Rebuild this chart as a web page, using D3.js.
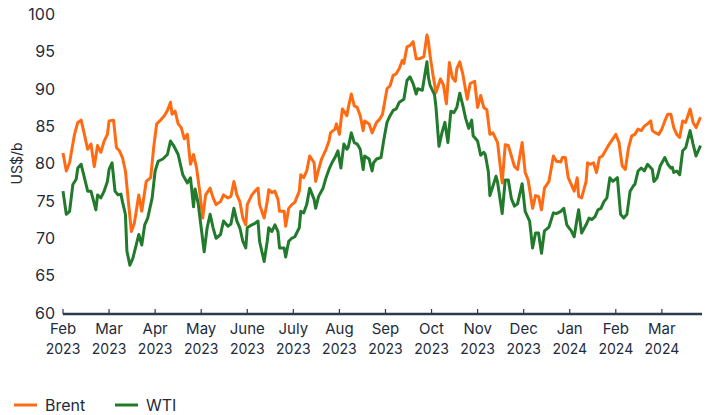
<!DOCTYPE html>
<html>
<head>
<meta charset="utf-8">
<script src="https://d3js.org/d3.v7.min.js"></script>
<style>
  body { margin: 0; background: #fff; }
  text { font-family: Inter, "Open Sans", sans-serif; fill: #1e2b3c; }
</style>
</head>
<body>
<div id="chart"></div>
<script>
// month ticks (equal-width months on the x axis)
var tickMonths = ["2023-02", "2023-03", "2023-04", "2023-05", "2023-06", "2023-07", "2023-08",
                  "2023-09", "2023-10", "2023-11", "2023-12", "2024-01", "2024-02", "2024-03"];
var tickNames = ["Feb", "Mar", "Apr", "May", "June", "July", "Aug", "Sep", "Oct", "Nov", "Dec", "Jan", "Feb", "Mar"];
var tickYears = ["2023", "2023", "2023", "2023", "2023", "2023", "2023", "2023", "2023", "2023", "2023", "2024", "2024", "2024"];
var yTicks = [60, 65, 70, 75, 80, 85, 90, 95, 100];

// US$/b
var brent = [
  ["2023-02-01", 81.4], ["2023-02-03", 79.0], ["2023-02-05", 80.1], ["2023-02-08", 83.9], ["2023-02-10", 85.5],
  ["2023-02-12", 85.8], ["2023-02-14", 83.9], ["2023-02-16", 81.9], ["2023-02-18", 82.6], ["2023-02-20", 79.6],
  ["2023-02-22", 82.4], ["2023-02-24", 81.5], ["2023-02-26", 83.0], ["2023-02-28", 83.9], ["2023-03-01", 85.7],
  ["2023-03-04", 85.8], ["2023-03-06", 82.1], ["2023-03-08", 81.7], ["2023-03-10", 80.8], ["2023-03-12", 79.0],
  ["2023-03-14", 74.9], ["2023-03-16", 70.9], ["2023-03-18", 72.0], ["2023-03-21", 75.8], ["2023-03-23", 73.6],
  ["2023-03-26", 77.6], ["2023-03-29", 78.1], ["2023-03-31", 82.1], ["2023-04-02", 85.3], ["2023-04-04", 85.7],
  ["2023-04-07", 86.4], ["2023-04-09", 87.1], ["2023-04-11", 88.2], ["2023-04-12", 86.6], ["2023-04-14", 87.0],
  ["2023-04-16", 85.3], ["2023-04-18", 84.8], ["2023-04-20", 83.3], ["2023-04-22", 83.9], ["2023-04-24", 79.9],
  ["2023-04-26", 81.2], ["2023-04-28", 79.4], ["2023-04-30", 76.3], ["2023-05-02", 72.7], ["2023-05-04", 75.8],
  ["2023-05-07", 76.7], ["2023-05-09", 75.4], ["2023-05-11", 74.5], ["2023-05-14", 74.9], ["2023-05-16", 75.8],
  ["2023-05-19", 75.4], ["2023-05-21", 75.6], ["2023-05-23", 77.6], ["2023-05-25", 75.8], ["2023-05-27", 74.9],
  ["2023-05-29", 72.7], ["2023-05-31", 71.8], ["2023-06-01", 74.5], ["2023-06-04", 75.8], ["2023-06-06", 76.3],
  ["2023-06-08", 76.7], ["2023-06-09", 74.5], ["2023-06-12", 72.7], ["2023-06-14", 74.9], ["2023-06-15", 76.5],
  ["2023-06-17", 76.1], ["2023-06-19", 76.3], ["2023-06-21", 75.2], ["2023-06-22", 73.6], ["2023-06-25", 73.6],
  ["2023-06-26", 71.6], ["2023-06-28", 74.0], ["2023-06-30", 74.5], ["2023-07-02", 74.8], ["2023-07-05", 76.3],
  ["2023-07-06", 78.5], ["2023-07-08", 78.1], ["2023-07-10", 79.0], ["2023-07-12", 81.0], ["2023-07-15", 80.1],
  ["2023-07-16", 77.6], ["2023-07-18", 79.2], ["2023-07-20", 80.6], ["2023-07-23", 81.9], ["2023-07-25", 83.0],
  ["2023-07-26", 84.1], ["2023-07-29", 84.6], ["2023-07-30", 85.3], ["2023-08-01", 83.9], ["2023-08-03", 87.3],
  ["2023-08-06", 86.4], ["2023-08-07", 87.5], ["2023-08-09", 89.3], ["2023-08-11", 87.7], ["2023-08-13", 87.5],
  ["2023-08-15", 86.4], ["2023-08-17", 84.4], ["2023-08-18", 85.7], ["2023-08-21", 85.3], ["2023-08-23", 84.1],
  ["2023-08-26", 85.5], ["2023-08-28", 85.9], ["2023-08-30", 86.6], ["2023-09-02", 90.0], ["2023-09-04", 90.4],
  ["2023-09-06", 91.8], ["2023-09-08", 92.0], ["2023-09-10", 92.7], ["2023-09-12", 93.8], ["2023-09-13", 93.4],
  ["2023-09-15", 95.6], ["2023-09-17", 95.8], ["2023-09-19", 96.3], ["2023-09-21", 94.0], ["2023-09-23", 94.0],
  ["2023-09-26", 94.3], ["2023-09-28", 97.2], ["2023-09-29", 96.3], ["2023-09-30", 94.5], ["2023-10-02", 91.8],
  ["2023-10-04", 89.5], ["2023-10-07", 91.3], ["2023-10-09", 90.5], ["2023-10-11", 88.0], ["2023-10-13", 93.5],
  ["2023-10-15", 91.5], ["2023-10-17", 91.0], ["2023-10-18", 92.7], ["2023-10-20", 93.6], ["2023-10-22", 92.0],
  ["2023-10-25", 88.6], ["2023-10-27", 90.7], ["2023-10-30", 91.0], ["2023-11-01", 87.5], ["2023-11-03", 89.1],
  ["2023-11-05", 87.5], ["2023-11-07", 87.2], ["2023-11-09", 83.9], ["2023-11-11", 84.1], ["2023-11-14", 82.8],
  ["2023-11-17", 77.4], ["2023-11-19", 82.5], ["2023-11-21", 82.4], ["2023-11-23", 81.0], ["2023-11-25", 79.6],
  ["2023-11-27", 79.2], ["2023-11-30", 82.8], ["2023-12-02", 78.8], ["2023-12-04", 77.8], ["2023-12-07", 74.0],
  ["2023-12-09", 75.7], ["2023-12-11", 75.6], ["2023-12-13", 73.8], ["2023-12-15", 76.7], ["2023-12-18", 77.6],
  ["2023-12-21", 81.0], ["2023-12-23", 80.3], ["2023-12-26", 80.2], ["2023-12-27", 80.8], ["2023-12-29", 80.8],
  ["2023-12-31", 78.1], ["2024-01-02", 77.2], ["2024-01-04", 76.3], ["2024-01-06", 78.1], ["2024-01-07", 75.6],
  ["2024-01-09", 75.4], ["2024-01-12", 77.6], ["2024-01-13", 80.1], ["2024-01-15", 79.9], ["2024-01-17", 80.1],
  ["2024-01-19", 78.8], ["2024-01-21", 80.8], ["2024-01-23", 81.0], ["2024-01-25", 81.7], ["2024-01-27", 82.4],
  ["2024-01-30", 83.3], ["2024-02-01", 83.9], ["2024-02-03", 82.8], ["2024-02-05", 79.7], ["2024-02-07", 79.2],
  ["2024-02-09", 82.1], ["2024-02-11", 83.7], ["2024-02-13", 83.9], ["2024-02-15", 84.6], ["2024-02-17", 84.4],
  ["2024-02-19", 85.0], ["2024-02-21", 85.3], ["2024-02-23", 85.7], ["2024-02-24", 84.4], ["2024-02-26", 84.1],
  ["2024-02-28", 83.9], ["2024-03-01", 84.6], ["2024-03-03", 85.7], ["2024-03-05", 86.6], ["2024-03-07", 86.6],
  ["2024-03-09", 84.8], ["2024-03-11", 83.9], ["2024-03-13", 83.5], ["2024-03-15", 85.7], ["2024-03-17", 85.5],
  ["2024-03-20", 87.3], ["2024-03-22", 85.5], ["2024-03-24", 84.8], ["2024-03-27", 86.2]
];

var wti = [
  ["2023-02-01", 76.3], ["2023-02-03", 73.2], ["2023-02-05", 73.6], ["2023-02-07", 77.2], ["2023-02-09", 77.9],
  ["2023-02-10", 79.4], ["2023-02-12", 79.9], ["2023-02-14", 78.1], ["2023-02-16", 76.3], ["2023-02-18", 76.3],
  ["2023-02-21", 73.8], ["2023-02-22", 75.8], ["2023-02-24", 75.4], ["2023-02-26", 76.3], ["2023-02-28", 77.6],
  ["2023-03-01", 79.2], ["2023-03-03", 80.1], ["2023-03-05", 76.3], ["2023-03-07", 75.8], ["2023-03-09", 75.9],
  ["2023-03-10", 74.9], ["2023-03-12", 73.2], ["2023-03-13", 68.3], ["2023-03-15", 66.4], ["2023-03-17", 67.3],
  ["2023-03-21", 70.5], ["2023-03-23", 69.1], ["2023-03-25", 71.8], ["2023-03-27", 72.7], ["2023-03-30", 75.4],
  ["2023-04-01", 79.0], ["2023-04-03", 80.3], ["2023-04-06", 80.6], ["2023-04-09", 81.2], ["2023-04-11", 83.0],
  ["2023-04-13", 82.4], ["2023-04-16", 81.2], ["2023-04-17", 80.3], ["2023-04-19", 78.5], ["2023-04-22", 77.4],
  ["2023-04-24", 78.1], ["2023-04-26", 74.2], ["2023-04-27", 76.6], ["2023-04-29", 74.7], ["2023-05-01", 71.4],
  ["2023-05-03", 68.2], ["2023-05-05", 71.4], ["2023-05-07", 73.2], ["2023-05-09", 71.4], ["2023-05-11", 70.0],
  ["2023-05-14", 70.5], ["2023-05-16", 72.3], ["2023-05-19", 71.6], ["2023-05-21", 71.9], ["2023-05-23", 74.0],
  ["2023-05-25", 72.3], ["2023-05-27", 71.4], ["2023-05-29", 69.6], ["2023-05-31", 68.7], ["2023-06-01", 71.4],
  ["2023-06-04", 71.8], ["2023-06-06", 72.0], ["2023-06-08", 72.3], ["2023-06-09", 69.6], ["2023-06-12", 66.9],
  ["2023-06-14", 69.6], ["2023-06-15", 71.4], ["2023-06-17", 70.9], ["2023-06-19", 71.8], ["2023-06-21", 70.9],
  ["2023-06-22", 68.7], ["2023-06-25", 68.7], ["2023-06-26", 67.5], ["2023-06-28", 69.6], ["2023-06-30", 70.0],
  ["2023-07-02", 70.2], ["2023-07-05", 71.4], ["2023-07-06", 73.6], ["2023-07-08", 73.4], ["2023-07-10", 74.5],
  ["2023-07-12", 76.7], ["2023-07-15", 75.2], ["2023-07-16", 74.0], ["2023-07-18", 75.6], ["2023-07-21", 76.7],
  ["2023-07-23", 78.1], ["2023-07-25", 79.2], ["2023-07-27", 80.1], ["2023-07-29", 80.8], ["2023-07-31", 81.7],
  ["2023-08-02", 79.4], ["2023-08-04", 82.6], ["2023-08-06", 81.9], ["2023-08-07", 82.2], ["2023-08-09", 84.1],
  ["2023-08-11", 82.8], ["2023-08-13", 82.6], ["2023-08-15", 81.9], ["2023-08-17", 79.2], ["2023-08-18", 81.0],
  ["2023-08-21", 80.6], ["2023-08-23", 79.0], ["2023-08-24", 80.1], ["2023-08-26", 80.6], ["2023-08-29", 80.8],
  ["2023-08-31", 83.3], ["2023-09-02", 85.5], ["2023-09-04", 86.4], ["2023-09-06", 87.1], ["2023-09-08", 87.3],
  ["2023-09-10", 88.2], ["2023-09-13", 88.6], ["2023-09-15", 91.1], ["2023-09-17", 91.6], ["2023-09-19", 90.7],
  ["2023-09-21", 89.3], ["2023-09-22", 90.0], ["2023-09-25", 89.8], ["2023-09-28", 93.6], ["2023-09-29", 91.5],
  ["2023-09-30", 90.5], ["2023-10-03", 89.2], ["2023-10-04", 87.5], ["2023-10-06", 82.3], ["2023-10-08", 84.1],
  ["2023-10-10", 85.5], ["2023-10-12", 82.8], ["2023-10-14", 87.0], ["2023-10-16", 86.8], ["2023-10-18", 87.5],
  ["2023-10-20", 89.4], ["2023-10-22", 87.8], ["2023-10-24", 86.0], ["2023-10-26", 84.7], ["2023-10-28", 85.8],
  ["2023-10-29", 83.7], ["2023-11-01", 83.0], ["2023-11-03", 81.1], ["2023-11-05", 81.5], ["2023-11-06", 81.2],
  ["2023-11-08", 78.9], ["2023-11-09", 75.7], ["2023-11-13", 78.3], ["2023-11-14", 77.5], ["2023-11-17", 73.3],
  ["2023-11-19", 77.8], ["2023-11-21", 77.8], ["2023-11-23", 75.3], ["2023-11-25", 74.3], ["2023-11-27", 74.6],
  ["2023-11-30", 77.3], ["2023-12-02", 73.6], ["2023-12-05", 72.3], ["2023-12-07", 68.7], ["2023-12-09", 70.7],
  ["2023-12-11", 70.7], ["2023-12-13", 68.0], ["2023-12-15", 71.0], ["2023-12-18", 71.5], ["2023-12-21", 73.4],
  ["2023-12-23", 73.3], ["2023-12-26", 73.6], ["2023-12-28", 74.0], ["2023-12-30", 71.8], ["2024-01-02", 71.0],
  ["2024-01-04", 70.2], ["2024-01-06", 72.7], ["2024-01-07", 73.8], ["2024-01-09", 70.7], ["2024-01-12", 71.8],
  ["2024-01-14", 72.7], ["2024-01-16", 72.5], ["2024-01-18", 72.9], ["2024-01-20", 73.8], ["2024-01-22", 74.0],
  ["2024-01-24", 74.9], ["2024-01-26", 75.4], ["2024-01-28", 78.1], ["2024-01-30", 77.6], ["2024-02-02", 78.1],
  ["2024-02-04", 73.2], ["2024-02-06", 72.7], ["2024-02-08", 73.2], ["2024-02-10", 76.3], ["2024-02-12", 77.0],
  ["2024-02-13", 77.2], ["2024-02-15", 79.0], ["2024-02-17", 79.4], ["2024-02-19", 79.0], ["2024-02-21", 79.9],
  ["2024-02-24", 79.2], ["2024-02-25", 77.6], ["2024-02-27", 78.1], ["2024-02-29", 79.7], ["2024-03-03", 80.8],
  ["2024-03-05", 79.9], ["2024-03-07", 79.4], ["2024-03-08", 79.5], ["2024-03-09", 78.8], ["2024-03-11", 79.0],
  ["2024-03-13", 78.5], ["2024-03-15", 81.7], ["2024-03-17", 82.1], ["2024-03-20", 84.4], ["2024-03-22", 82.6],
  ["2024-03-24", 81.0], ["2024-03-27", 82.4]
];

var width = 707, height = 415;
var margin = { left: 63, right: 5, top: 14, bottom: 103 };

// months are drawn with equal width, so turn a date into a fractional month index from Feb 2023
function monthIndex(str) {
  var p = str.split("-").map(Number);
  var idx = (p[0] - 2023) * 12 + (p[1] - 2);
  if (p.length > 2) {
    var days = new Date(p[0], p[1], 0).getDate();
    idx += (p[2] - 1) / days;
  }
  return idx;
}

var x = d3.scaleLinear()
  .domain([0, monthIndex("2024-03-28")])
  .range([margin.left, width - margin.right]);

var y = d3.scaleLinear()
  .domain([60, 100])
  .range([height - margin.bottom + 1, margin.top]);

var svg = d3.select("#chart").append("svg")
  .attr("width", width)
  .attr("height", height);

// y labels (no axis line)
svg.append("g")
  .selectAll("text")
  .data(yTicks)
  .enter()
  .append("text")
  .attr("x", 55)
  .attr("y", d => y(d))
  .attr("dy", "0.36em")
  .attr("text-anchor", "end")
  .style("font-size", "16px")
  .text(d => d);

svg.append("text")
  .attr("transform", "translate(22," + y(80) + ") rotate(-90)")
  .attr("text-anchor", "middle")
  .style("font-size", "14px")
  .text("US$/b");

// x axis
var xAxis = svg.append("g")
  .attr("transform", "translate(0," + (y(60) + 1) + ")");

xAxis.append("line")
  .attr("x1", x.range()[0])
  .attr("x2", x.range()[1])
  .attr("stroke", "#2a3b4d")
  .attr("stroke-width", 2.5);

var ticks = xAxis.selectAll("g.tick")
  .data(tickMonths)
  .enter()
  .append("g")
  .attr("class", "tick")
  .attr("transform", d => "translate(" + x(monthIndex(d)) + ",0)");

ticks.append("line")
  .attr("y1", 0)
  .attr("y2", -5)
  .attr("stroke", "#2a3b4d")
  .attr("stroke-width", 1.2);

ticks.append("text")
  .attr("y", 20)
  .attr("text-anchor", "middle")
  .style("font-size", "15px")
  .text((d, i) => tickNames[i]);

ticks.append("text")
  .attr("y", 40)
  .attr("text-anchor", "middle")
  .style("font-size", "14px")
  .text((d, i) => tickYears[i]);

// lines
var line = d3.line()
  .x(d => x(monthIndex(d[0])))
  .y(d => y(d[1]));

var series = [
  { name: "Brent", data: brent, color: "#ff6b12" },
  { name: "WTI", data: wti, color: "#227a2c" }
];

svg.append("g")
  .selectAll("path")
  .data(series)
  .enter()
  .append("path")
  .attr("d", d => line(d.data))
  .attr("fill", "none")
  .attr("stroke", d => d.color)
  .attr("stroke-width", 3)
  .attr("stroke-linejoin", "round");

// legend
var legend = svg.append("g")
  .attr("transform", "translate(14,405)")
  .selectAll("g")
  .data(series)
  .enter()
  .append("g")
  .attr("transform", (d, i) => "translate(" + (i * 101) + ",0)");

legend.append("line")
  .attr("x1", 0)
  .attr("x2", 23)
  .attr("stroke", d => d.color)
  .attr("stroke-width", 3);

legend.append("text")
  .attr("x", 31)
  .attr("dy", "0.36em")
  .style("font-size", "16px")
  .text(d => d.name);
</script>
</body>
</html>
